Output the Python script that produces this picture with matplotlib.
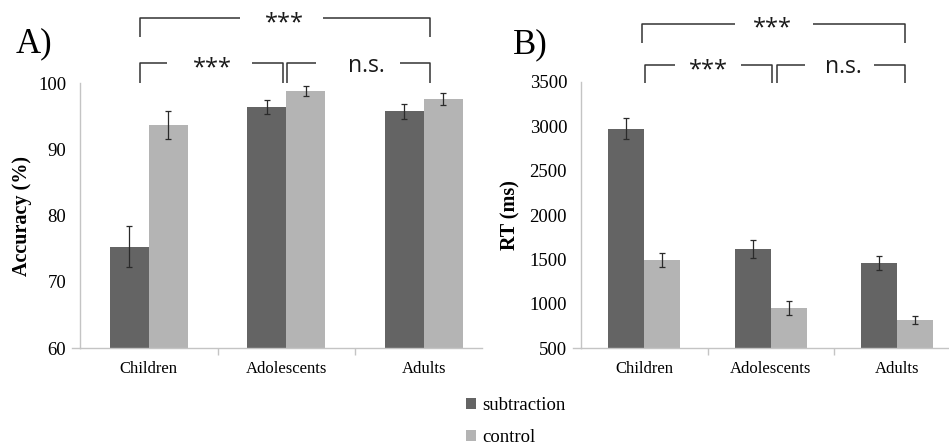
import matplotlib
matplotlib.use("Agg")
import matplotlib.pyplot as plt
from matplotlib.patches import Patch
from matplotlib.font_manager import FontProperties
import numpy as np

groups = ["Children", "Adolescents", "Adults"]
series = ["subtraction", "control"]

acc_sub = [75.3, 96.4, 95.7]
acc_sub_err = [3.1, 1.1, 1.2]
acc_ctl = [93.6, 98.8, 97.6]
acc_ctl_err = [2.1, 0.7, 0.9]

rt_sub = [2970, 1615, 1462]
rt_sub_err = [120, 100, 80]
rt_ctl = [1495, 952, 823]
rt_ctl_err = [80, 75, 45]

acc_ticks = [60, 70, 80, 90, 100]
rt_ticks = [500, 1000, 1500, 2000, 2500, 3000, 3500]

C_SUB = "#646464"
C_CTL = "#b4b4b4"
AXC = "#c4c4c4"
SERIF = "Liberation Serif"
SANS = "Open Sans"

W, H = 949, 448
fig = plt.figure(figsize=(W / 100, H / 100), dpi=100)

def px_axes(l, t, r, b):
    return fig.add_axes([l / W, 1 - b / H, (r - l) / W, (b - t) / H])

axA = px_axes(80, 83, 482, 348)
axB = px_axes(581, 81.7, 949, 348.3)

bw = 0.283
x = np.arange(len(groups))

def draw(ax, sub, sube, ctl, ctle, ylim, ticks, ylabel, cat_px):
    ax.bar(x - bw / 2, sub, bw, color=C_SUB, zorder=2, label=series[0])
    ax.bar(x + bw / 2, ctl, bw, color=C_CTL, zorder=2, label=series[1])
    ekw = dict(fmt="none", ecolor="#2a2a2a", elinewidth=0.9, capsize=2, capthick=0.9, zorder=3)
    ax.errorbar(x - bw / 2, sub, yerr=sube, **ekw)
    ax.errorbar(x + bw / 2, ctl, yerr=ctle, **ekw)
    ax.set_ylim(*ylim)
    ax.set_yticks(ticks)
    ax.set_yticklabels([str(t) for t in ticks], family=SERIF, fontsize=13.5)
    ax.tick_params(axis="y", length=0, pad=10)
    ax.set_xticks(x)
    ax.set_xticklabels(groups, family=SERIF, fontsize=12)
    ax.set_xticks([0.5, 1.5], minor=True)
    ax.tick_params(axis="x", which="major", length=0, pad=9)
    ax.tick_params(axis="x", which="minor", length=5, color=AXC, width=1)
    for s in ["top", "right"]:
        ax.spines[s].set_visible(False)
    for s in ["left", "bottom"]:
        ax.spines[s].set_color(AXC)
        ax.spines[s].set_linewidth(1)
    ax.set_ylabel(ylabel, family=SERIF, fontsize=14.5, fontweight="bold")
    ax.patch.set_alpha(0)
    xmin = ax.get_xlim()[0]
    d = 8 / cat_px
    ax.plot([xmin - d, xmin], [ylim[0], ylim[0]], color=AXC, lw=1, clip_on=False)

axA.set_xlim(-0.5, -0.5 + 402 / 137.5)
axB.set_xlim(-0.5, -0.5 + 368 / 126.5)
draw(axA, acc_sub, acc_sub_err, acc_ctl, acc_ctl_err, (60, 100), acc_ticks, "Accuracy (%)", 137.5)
draw(axB, rt_sub, rt_sub_err, rt_ctl, rt_ctl_err, (500, 3500), rt_ticks, "RT (ms)", 126.5)
axA.yaxis.set_label_coords(-58 / 402, 0.5)
axB.yaxis.label.set_va("center")
axB.yaxis.set_label_coords(-71 / 368, 0.5)
axA.yaxis.label.set_va("center")

def bracket(ax, x1, x2, y, ydrop, gap1, gap2, text, tx, ty, size):
    kw = dict(color="#333333", lw=1.1, clip_on=False, solid_capstyle="butt")
    ax.plot([x1, x1, gap1], [ydrop, y, y], **kw)
    ax.plot([gap2, x2, x2], [y, y, ydrop], **kw)
    ax.text(tx, ty, text, family=SANS, fontsize=size, ha="center", va="baseline", color="#1a1a1a")

# Panel A brackets
bracket(axA, -0.064, 2.045, 109.8, 107.0, 0.664, 1.267, "***", 0.99, 108.1, 17)
bracket(axA, -0.064, 0.976, 103.0, 100.0, 0.133, 0.751, "***", 0.46, 101.3, 17)
bracket(axA, 1.005, 2.045, 103.0, 100.0, 1.216, 1.827, "n.s.", 1.58, 101.66, 16.5)

# Panel B brackets
bracket(axB, -0.020, 2.061, 4148, 3938, 0.717, 1.334, "***", 1.015, 4030, 17)
bracket(axB, 0.006, 1.008, 3687, 3481, 0.243, 0.762, "***", 0.506, 3565, 17)
bracket(axB, 1.052, 2.061, 3687, 3481, 1.271, 1.816, "n.s.", 1.571, 3602, 16.5)

fig.text(33.5 / W, 1 - 44 / H, "A)", family=SERIF, fontsize=25, ha="center", va="center")
fig.text(530 / W, 1 - 45 / H, "B)", family=SERIF, fontsize=25, ha="center", va="center")

handles = [Patch(facecolor=C_SUB, edgecolor="none"), Patch(facecolor=C_CTL, edgecolor="none")]
leg = fig.legend(handles, series, loc="upper left", bbox_to_anchor=(466 / W, 1 - 397 / H),
                 frameon=False, prop=FontProperties(family=SERIF, size=13.5), handlelength=0.55,
                 handleheight=0.55, handletextpad=0.3, labelspacing=0.8, borderpad=0,
                 borderaxespad=0)
for t in leg.get_texts():
    t.set_fontfamily(SERIF)

fig.savefig("out.png", dpi=100)
